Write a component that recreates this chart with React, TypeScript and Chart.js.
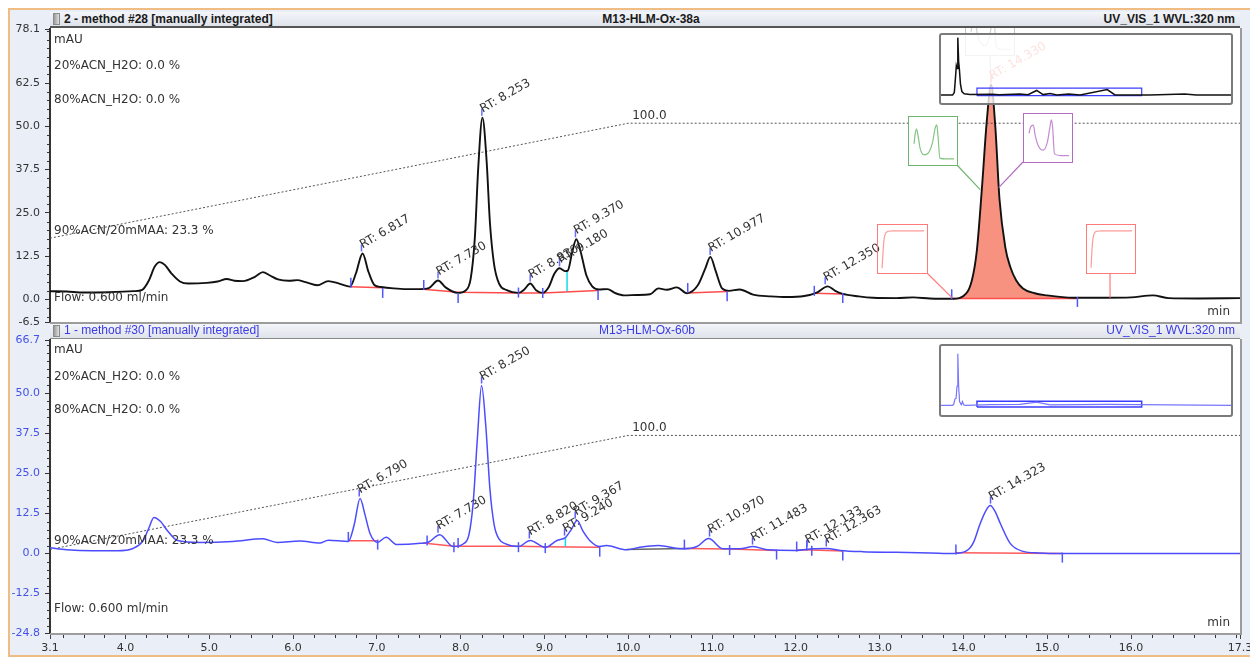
import React, { useEffect, useRef } from 'react';
import { Chart, registerables } from 'chart.js';

Chart.register(...registerables);

const NOTE_FONT = '"DejaVu Sans", "Liberation Sans", sans-serif';
const HEAD_FONT = '"Liberation Sans", Arial, sans-serif';
Chart.defaults.font.family = NOTE_FONT;

// ---------------- axes ----------------
const timeMin = 3.1;
const timeMax = 17.3;
const timeTicks = [3.1, 4.0, 5.0, 6.0, 7.0, 8.0, 9.0, 10.0, 11.0, 12.0, 13.0, 14.0, 15.0, 16.0, 17.3];
const timeMinorStep = 0.25;
const yMinorStep = 2.5;
const topYMin = -6.5;
const topYMax = 78.1;
const topYTicks = [-6.5, 0.0, 12.5, 25.0, 37.5, 50.0, 62.5, 78.1];
const botYMin = -24.8;
const botYMax = 66.7;
const botYTicks = [-24.8, -12.5, 0.0, 12.5, 25.0, 37.5, 50.0, 66.7];

// ---------------- top chromatogram (M13-HLM-Ox-38a) ----------------
const topTimes = [
  3.10, 3.30, 3.50, 3.80, 4.10, 4.20, 4.28, 4.35, 4.41, 4.47, 4.55, 4.65, 4.75, 4.97, 5.10, 5.21, 5.30, 5.40, 5.55, 5.64,
  5.72, 5.82, 5.95, 6.05, 6.15, 6.29, 6.42, 6.55, 6.68, 6.75, 6.83, 6.90, 6.97, 7.05, 7.20, 7.35, 7.50, 7.62, 7.73, 7.82,
  7.96, 8.06, 8.12, 8.17, 8.21, 8.26, 8.31, 8.35, 8.40, 8.46, 8.55, 8.69, 8.76, 8.83, 8.90, 8.98, 9.05, 9.12, 9.18, 9.25,
  9.28, 9.33, 9.38, 9.43, 9.50, 9.57, 9.65, 9.75, 9.85, 9.95, 10.10, 10.26, 10.36, 10.46, 10.58, 10.70, 10.83, 10.92, 10.98, 11.04,
  11.12, 11.20, 11.33, 11.49, 11.70, 11.89, 12.10, 12.25, 12.38, 12.47, 12.55, 12.75, 12.92, 13.20, 13.40, 13.60, 13.88, 14.00, 14.10, 14.16,
  14.22, 14.28, 14.33, 14.38, 14.43, 14.50, 14.56, 14.63, 14.71, 14.85, 14.99, 15.31, 15.71, 16.00, 16.26, 16.45, 16.80, 17.30,
];
const topValues = [
  2.4, 2.3, 2.0, 2.1, 2.4, 2.8, 5.5, 9.5, 10.8, 10.0, 7.5, 5.2, 4.6, 4.8, 5.2, 5.9, 5.4, 5.3, 6.6, 7.9,
  7.0, 5.8, 5.4, 5.6, 5.0, 4.1, 5.3, 4.6, 3.7, 7.5, 13.3, 8.0, 4.2, 3.6, 3.2, 3.0, 3.0, 3.3, 5.5, 3.5,
  1.9, 2.6, 6.0, 18.0, 38.0, 52.5, 40.0, 22.0, 10.0, 4.5, 2.7, 1.9, 2.9, 4.6, 2.7, 1.9, 3.5, 7.5, 9.0, 8.2,
  8.4, 13.5, 17.4, 14.0, 7.0, 3.8, 2.9, 3.0, 1.8, 1.2, 1.3, 1.5, 3.2, 2.8, 3.5, 1.8, 4.1, 9.0, 12.3, 8.5,
  3.2, 2.5, 2.9, 1.4, 0.9, 0.7, 1.0, 2.0, 3.8, 2.5, 1.7, 0.9, 0.5, 0.4, 0.6, 0.3, 0.2, 1.0, 5.5, 14.2,
  32.0, 52.0, 62.0, 50.0, 29.0, 15.0, 9.3, 5.5, 3.2, 1.8, 1.2, 0.5, 0.5, 0.6, 1.2, 0.4, 0.3, 0.4,
];
const topAreaRange = [13.86, 15.36];
const topAreaBase = 0.3;
const topPeakTimes = [6.817, 7.730, 8.253, 8.830, 9.180, 9.370, 10.977, 12.350, 14.330];
const topPeakHeights = [13.3, 5.5, 52.5, 4.6, 9.0, 17.4, 12.3, 3.8, 62.0];
const topPeakLabels = ['RT: 6.817', 'RT: 7.730', 'RT: 8.253', 'RT: 8.830', 'RT: 9.180', 'RT: 9.370', 'RT: 10.977', 'RT: 12.350', 'RT: 14.330'];
const topLabelColors = ['#333', '#333', '#333', '#333', '#333', '#333', '#333', '#333', '#f26a55'];
const topDelimTimes = [6.69, 7.07, 7.56, 7.97, 8.69, 8.98, 9.64, 10.71, 11.18, 12.22, 12.56, 13.86, 15.36];
const topDelimValues = [4.8, 1.9, 4.2, 0.4, 2.0, 1.9, 1.3, 3.3, 0.9, 2.5, 0.4, 1.5, -0.7];
const topBaseSegments = [
  [[6.68, 3.7], [7.07, 3.4]],
  [[7.52, 3.0], [7.97, 2.1], [8.69, 1.9], [8.98, 1.9], [9.64, 2.6]],
  [[10.70, 1.9], [11.18, 2.3]],
  [[12.22, 1.8], [12.56, 1.6]],
  [[13.86, 0.3], [15.36, 0.3]],
];
const topDropTimes = [9.27, 9.27];
const topDropValues = [8.2, 2.2];
const topGradTimes = [3.1, 10.0, 17.3];
const topGradValues = [17.7, 50.9, 50.9];
const topNotes = ['mAU', '20%ACN_H2O: 0.0 %', '80%ACN_H2O: 0.0 %', '90%ACN/20mMAA: 23.3 %', 'Flow: 0.600 ml/min'];
const topNoteY = [40, 66, 100, 231, 298];

// spectra links (end points on the top chromatogram)
const specLinkTimes = [13.86, 15.75, 14.20, 14.42, 14.33];
const specLinkValues = [0.6, 0.5, 31.7, 32.3, 63.7];

// ---------------- bottom chromatogram (M13-HLM-Ox-60b) ----------------
const botTimes = [
  3.10, 3.30, 3.60, 3.90, 4.09, 4.21, 4.28, 4.34, 4.42, 4.50, 4.62, 4.89, 5.28, 5.64, 5.81, 6.08, 6.32, 6.42, 6.66, 6.73,
  6.80, 6.86, 6.92, 7.01, 7.11, 7.24, 7.52, 7.62, 7.75, 7.91, 8.03, 8.10, 8.15, 8.20, 8.25, 8.30, 8.35, 8.40, 8.46, 8.53,
  8.69, 8.83, 9.01, 9.15, 9.25, 9.32, 9.39, 9.46, 9.54, 9.66, 9.74, 9.98, 10.14, 10.36, 10.65, 10.82, 10.96, 11.13, 11.33, 11.49,
  11.66, 12.01, 12.20, 12.37, 12.53, 12.80, 13.20, 13.60, 13.88, 14.04, 14.12, 14.20, 14.27, 14.32, 14.38, 14.44, 14.56, 14.71, 14.90, 15.12,
  16.00, 17.30,
];
const botValues = [
  1.8, 1.2, 0.9, 0.9, 1.6, 4.0, 8.0, 11.3, 10.0, 7.2, 4.1, 3.5, 3.8, 4.6, 3.5, 3.9, 3.3, 4.2, 3.8, 9.0,
  17.2, 12.0, 6.2, 3.5, 5.1, 2.8, 3.2, 3.6, 5.9, 2.2, 3.0, 6.0, 16.0, 36.0, 52.5, 40.0, 20.0, 9.0, 4.5, 3.1,
  2.2, 4.1, 1.9, 4.1, 5.0, 7.5, 10.3, 7.0, 4.1, 2.2, 2.5, 1.2, 2.0, 2.5, 1.5, 2.2, 4.7, 1.5, 1.5, 2.2,
  1.2, 1.0, 1.5, 1.6, 1.0, 0.6, 0.4, 0.2, 0.0, 0.9, 3.5, 9.4, 13.5, 15.0, 13.0, 9.4, 3.1, 0.7, 0.2, 0.0,
  0.0, 0.0,
];
const botPeakTimes = [6.790, 7.730, 8.250, 8.820, 9.240, 9.367, 10.970, 11.483, 12.133, 12.363, 14.323];
const botPeakHeights = [17.2, 5.9, 52.5, 4.1, 5.0, 10.3, 4.7, 2.2, 1.5, 1.6, 15.0];
const botPeakLabels = ['RT: 6.790', 'RT: 7.730', 'RT: 8.250', 'RT: 8.820', 'RT: 9.240', 'RT: 9.367', 'RT: 10.970', 'RT: 11.483', 'RT: 12.133', 'RT: 12.363', 'RT: 14.323'];
const botLabelColors = ['#333', '#333', '#333', '#333', '#333', '#333', '#333', '#333', '#333', '#333', '#333'];
const botDelimTimes = [6.66, 7.01, 7.60, 7.92, 7.97, 8.69, 9.01, 9.66, 10.67, 11.21, 11.77, 12.01, 12.13, 12.19, 12.56, 13.91, 15.18];
const botDelimValues = [5.2, 2.8, 4.1, 2.0, 3.3, 2.0, 1.7, 0.6, 2.8, 1.1, -0.3, 2.2, 2.5, 0.9, -0.6, 1.25, -1.25];
const botBaseSegments = [
  [[6.66, 4.0], [7.01, 4.0]],
  [[7.55, 3.3], [7.92, 2.3], [8.69, 2.3], [9.01, 2.1], [9.66, 2.0]],
  [[10.67, 1.6], [11.21, 1.4], [11.77, 1.0]],
  [[12.01, 1.1], [12.19, 1.1], [12.56, 0.8]],
  [[13.91, 0.3], [15.18, 0.0]],
];
const botGraySegments = [[[9.98, 1.3], [10.67, 1.6]]];
const botDropTimes = [9.25, 9.25];
const botDropValues = [5.0, 2.2];
const botGradTimes = [3.1, 10.0, 17.3];
const botGradValues = [1.3, 36.9, 36.9];
const botNotes = ['mAU', '20%ACN_H2O: 0.0 %', '80%ACN_H2O: 0.0 %', '90%ACN/20mMAA: 23.3 %', 'Flow: 0.600 ml/min'];
const botNoteY = [20, 47, 80, 211, 279];

// ---------------- overview insets ----------------
const insetTimeMax = 25;
const insetTopTimes = [0, 1.0, 1.15, 1.25, 1.32, 1.38, 1.45, 1.52, 1.58, 1.68, 1.8, 2.0, 2.5, 4.4, 5.0, 6.8, 7.5, 8.25, 8.8, 9.4, 10.0, 11.0, 12.0, 14.33, 15.0, 16.3, 18.0, 21.0, 22.0, 25.0];
const insetTopValues = [0, 0, 30, 200, 330, 300, 650, 380, 300, 120, 40, 15, 5, 10, 4, 13, 3, 52, 5, 17, 2, 12, 1, 62, 1, 2, 0, 12, 0, 0];
const insetTopRange = [-90, 680];
const insetBotTimes = [0, 1.0, 1.1, 1.2, 1.3, 1.38, 1.45, 1.52, 1.6, 1.75, 1.85, 1.95, 2.1, 4.3, 6.8, 8.25, 9.4, 14.3, 25];
const insetBotValues = [0, 0, 20, 100, 110, 300, 810, 300, 60, 10, 60, 10, 0, 11, 17, 52, 10, 15, 0];
const insetBotRange = [-150, 930];

// ---------------- UV spectra thumbnails ----------------
const specRedWl = [200, 205, 210, 215, 220, 230, 250, 300, 350, 400];
const specRedLeftAbs = [0.02, 0.45, 0.74, 0.85, 0.89, 0.92, 0.93, 0.93, 0.93, 0.93];
const specRedRightAbs = [0.03, 0.5, 0.76, 0.86, 0.9, 0.92, 0.93, 0.93, 0.93, 0.93];
const specGreenWl = [205, 210, 217, 225, 235, 253, 275, 295, 308, 316, 322, 331, 360, 400];
const specGreenAbs = [0.42, 0.65, 0.78, 0.6, 0.3, 0.15, 0.2, 0.45, 0.8, 0.88, 0.6, 0.07, 0.05, 0.05];
const specPurpleWl = [205, 212, 226, 235, 250, 274, 295, 305, 314, 320, 329, 360, 400];
const specPurpleAbs = [0.6, 0.75, 0.8, 0.55, 0.3, 0.19, 0.4, 0.7, 0.93, 0.75, 0.1, 0.06, 0.06];
const specApexAbs = [0.55, 0.75, 0.85, 0.5, 0.25, 0.15, 0.4, 0.75, 0.95, 0.7, 0.1, 0.05, 0.05];
const specWlRange = [190, 400];

// ---------------- helpers ----------------
const pts = (xs: number[], ys: (number | null)[]) => xs.map((x, i) => ({ x, y: ys[i] }));
const segData = (segs: number[][][]) => {
  const out: any[] = [];
  segs.forEach((s, i) => {
    if (i > 0) out.push({ x: s[0][0], y: null });
    s.forEach((p) => out.push({ x: p[0], y: p[1] }));
  });
  return out;
};
const rectData = (x0: number, x1: number, y0: number, y1: number) => [
  { x: x0, y: y0 }, { x: x1, y: y0 }, { x: x1, y: y1 }, { x: x0, y: y1 }, { x: x0, y: y0 },
];

// layout of the spectrum boxes (pixels)
const specBoxes = [
  { left: 877, top: 224, w: 51, h: 50, color: '#ff7b7b', line: '#ff9a9a', bg: 'transparent', wl: specRedWl, abs: specRedLeftAbs, lx: 927, ly: 273 },
  { left: 1086, top: 224, w: 50, h: 50, color: '#ff7b7b', line: '#ff9a9a', bg: 'transparent', wl: specRedWl, abs: specRedRightAbs, lx: 1110, ly: 273 },
  { left: 908, top: 116, w: 50, h: 50, color: '#6cb56c', line: '#84c484', bg: '#ffffff', wl: specGreenWl, abs: specGreenAbs, lx: 957, ly: 165 },
  { left: 1023, top: 113, w: 50, h: 50, color: '#b36cc4', line: '#c58bd2', bg: '#ffffff', wl: specPurpleWl, abs: specPurpleAbs, lx: 1023, ly: 162 },
  { left: 965, top: 12, w: 50, h: 44, color: '#c4c4c4', line: '#cfcfcf', bg: '#ffffff', wl: specPurpleWl, abs: specApexAbs, lx: 990, ly: 56 },
];

type PanelCfg = any;

function decoPlugin(cfg: PanelCfg) {
  return {
    id: 'deco',
    beforeDraw(chart: any) {
      const { ctx, chartArea: a } = chart;
      ctx.save();
      ctx.fillStyle = '#ffffff';
      ctx.fillRect(a.left, a.top - cfg.whiteAbove, a.right - a.left, a.bottom - a.top + cfg.whiteAbove);
      ctx.restore();
    },
    afterDatasetsDraw(chart: any) {
      const { ctx, chartArea: a } = chart;
      const xs = chart.scales.x;
      const ys = chart.scales.y;
      ctx.save();
      // spectrum connectors
      (cfg.links || []).forEach((l: any) => {
        ctx.strokeStyle = l.color;
        ctx.lineWidth = 1.2;
        ctx.beginPath();
        ctx.moveTo(l.sx, l.sy - cfg.offsetY);
        ctx.lineTo(xs.getPixelForValue(l.t), ys.getPixelForValue(l.v));
        ctx.stroke();
      });
      // notes
      ctx.fillStyle = '#333';
      ctx.font = `12px ${NOTE_FONT}`;
      ctx.textAlign = 'left';
      ctx.textBaseline = 'middle';
      cfg.notes.forEach((n: string, i: number) => ctx.fillText(n, a.left + 4, cfg.noteY[i]));
      ctx.textAlign = 'right';
      ctx.fillText('min', a.right - 10, a.bottom - 10);
      // gradient end label
      ctx.textAlign = 'left';
      ctx.textBaseline = 'alphabetic';
      ctx.fillText('100.0', xs.getPixelForValue(cfg.gradTimes[1]) + 4, ys.getPixelForValue(cfg.gradValues[1]) - 4);
      // peak apex marks and labels
      cfg.peakTimes.forEach((t: number, i: number) => {
        const px = xs.getPixelForValue(t);
        const py = ys.getPixelForValue(cfg.peakHeights[i]);
        ctx.strokeStyle = cfg.labelColors[i] === '#333' ? cfg.apexColor : cfg.labelColors[i];
        ctx.lineWidth = 1.5;
        ctx.beginPath();
        ctx.moveTo(px, py - 2);
        ctx.lineTo(px, py - 9);
        ctx.stroke();
        ctx.save();
        ctx.translate(px + 1, py - 5);
        ctx.rotate(-Math.PI / 6);
        ctx.fillStyle = cfg.labelColors[i];
        ctx.fillText(cfg.peakLabels[i], 0, 0);
        ctx.restore();
      });
      ctx.restore();
    },
    afterDraw(chart: any) {
      const { ctx, chartArea: a } = chart;
      const ys = chart.scales.y;
      ctx.save();
      ctx.strokeStyle = '#333';
      ctx.lineWidth = 1;
      ctx.beginPath();
      for (let k = Math.ceil(cfg.yMin / yMinorStep); k * yMinorStep <= cfg.yMax; k++) {
        const v = k * yMinorStep;
        if (cfg.yTicks.some((m: number) => Math.abs(m - v) < 0.3)) continue;
        const py = Math.round(ys.getPixelForValue(v)) + 0.5;
        ctx.moveTo(a.left - 3, py);
        ctx.lineTo(a.left, py);
      }
      if (cfg.showX) {
        const xs = chart.scales.x;
        for (let k = Math.ceil(timeMin / timeMinorStep); k * timeMinorStep <= timeMax; k++) {
          const t = k * timeMinorStep;
          if (timeTicks.some((m) => Math.abs(m - t) < 0.05)) continue;
          const px = Math.round(xs.getPixelForValue(t)) + 0.5;
          ctx.moveTo(px, a.bottom + 2);
          ctx.lineTo(px, a.bottom + 5);
        }
      }
      ctx.stroke();
      // frame
      ctx.strokeStyle = '#9c9c9c';
      ctx.lineWidth = 2;
      ctx.beginPath();
      ctx.moveTo(a.right + 1, a.top - cfg.whiteAbove);
      ctx.lineTo(a.right + 1, a.bottom + 1);
      ctx.lineTo(a.left, a.bottom + 1);
      ctx.stroke();
      ctx.restore();
    },
  };
}

function buildConfig(cfg: PanelCfg): any {
  return {
    type: 'line',
    data: { datasets: cfg.datasets },
    options: {
      animation: false,
      responsive: false,
      events: [],
      layout: { padding: cfg.padding },
      plugins: { legend: { display: false }, tooltip: { enabled: false }, title: { display: false } },
      scales: {
        x: {
          type: 'linear',
          min: timeMin,
          max: timeMax,
          display: cfg.showX,
          afterBuildTicks: (s: any) => { s.ticks = timeTicks.map((v) => ({ value: v })); },
          afterFit: (s: any) => {
            s.height = cfg.showX ? 22 : 0;
            s.paddingLeft = 0;
            s.paddingRight = 0;
          },
          grid: { drawOnChartArea: false, tickLength: 6, color: '#444', lineWidth: 1 },
          border: { display: false },
          ticks: {
            autoSkip: false, maxRotation: 0, minRotation: 0, padding: 3, color: '#333',
            font: { family: NOTE_FONT, size: 11 },
            callback: (v: any) => Number(v).toFixed(1),
          },
        },
        y: {
          type: 'linear',
          min: cfg.yMin,
          max: cfg.yMax,
          afterBuildTicks: (s: any) => { s.ticks = cfg.yTicks.map((v: number) => ({ value: v })); },
          afterFit: (s: any) => { s.width = 50; s.paddingTop = 0; s.paddingBottom = 0; },
          grid: { drawOnChartArea: false, tickLength: 5, color: '#333', lineWidth: 1 },
          border: { display: true, color: '#333', width: 2 },
          ticks: {
            autoSkip: false, padding: 5, color: cfg.yTickColor,
            font: { family: NOTE_FONT, size: 11 },
            callback: (v: any) => Number(v).toFixed(1),
          },
        },
      },
    },
    plugins: [decoPlugin(cfg)],
  };
}

function Panel({ cfg }: { cfg: PanelCfg }) {
  const ref = useRef<HTMLCanvasElement>(null);
  useEffect(() => {
    const chart = new Chart(ref.current as HTMLCanvasElement, buildConfig(cfg));
    return () => chart.destroy();
  }, []);
  return (
    <canvas
      ref={ref}
      width={1250}
      height={cfg.height}
      style={{ position: 'absolute', left: 0, top: cfg.offsetY, width: 1250, height: cfg.height }}
    />
  );
}

function MiniChart({ box, datasets, xRange, yRange, pad }: any) {
  const ref = useRef<HTMLCanvasElement>(null);
  const bw = box.border;
  const cw = Math.round(box.w - 2 * bw);
  const ch = Math.round(box.h - 2 * bw);
  useEffect(() => {
    const chart = new Chart(ref.current as HTMLCanvasElement, {
      type: 'line',
      data: { datasets },
      options: {
        animation: false,
        responsive: false,
        events: [],
        layout: { padding: pad },
        plugins: { legend: { display: false }, tooltip: { enabled: false } },
        scales: {
          x: { type: 'linear', display: false, min: xRange[0], max: xRange[1] },
          y: { type: 'linear', display: false, min: yRange[0], max: yRange[1] },
        },
      },
    } as any);
    return () => chart.destroy();
  }, []);
  return (
    <div
      style={{
        position: 'absolute', left: box.left, top: box.top, width: box.w, height: box.h,
        boxSizing: 'border-box', border: `${bw}px solid ${box.color}`, borderRadius: box.radius || 0,
        background: box.bg, overflow: 'hidden',
      }}
    >
      <canvas ref={ref} width={cw} height={ch} style={{ display: 'block', width: cw, height: ch }} />
    </div>
  );
}

const topArea = topTimes
  .map((t, i) => ({ x: t, y: topValues[i] }))
  .filter((p) => p.x >= topAreaRange[0] && p.x <= topAreaRange[1]);

const topCfg = {
  offsetY: 0,
  height: 330,
  padding: { left: 0, right: 10, top: 29, bottom: 8 },
  whiteAbove: 1,
  showX: false,
  yMin: topYMin,
  yMax: topYMax,
  yTicks: topYTicks,
  yTickColor: '#333',
  apexColor: '#6a6cff',
  notes: topNotes,
  noteY: topNoteY,
  gradTimes: topGradTimes,
  gradValues: topGradValues,
  peakTimes: topPeakTimes,
  peakHeights: topPeakHeights,
  peakLabels: topPeakLabels,
  labelColors: topLabelColors,
  links: specBoxes.map((b, i) => ({ sx: b.lx, sy: b.ly, t: specLinkTimes[i], v: specLinkValues[i], color: b.color })),
  datasets: [
    { data: pts(topTimes, topValues), borderColor: '#111', borderWidth: 1.9, pointRadius: 0, cubicInterpolationMode: 'monotone', order: 1 },
    { data: pts(topDelimTimes, topDelimValues), showLine: false, pointStyle: 'line', pointRotation: 90, pointRadius: 5, pointBorderColor: '#4f55ff', pointBorderWidth: 1.5, borderColor: '#4f55ff', order: 0 },
    { data: segData(topBaseSegments), borderColor: '#ff4d4d', borderWidth: 1.5, pointRadius: 0, spanGaps: false, order: 2 },
    { data: pts(topDropTimes, topDropValues), borderColor: '#10dce8', borderWidth: 1.5, pointRadius: 0, order: 2 },
    { data: pts(topGradTimes, topGradValues), borderColor: '#555', borderWidth: 1, borderDash: [2, 2], pointRadius: 0, order: 3 },
    { data: topArea, backgroundColor: 'rgba(245,140,120,0.95)', borderWidth: 0, pointRadius: 0, cubicInterpolationMode: 'monotone', fill: { value: topAreaBase }, order: 4 },
  ],
};

const botCfg = {
  offsetY: 330,
  height: 328,
  padding: { left: 0, right: 10, top: 10, bottom: 3 },
  whiteAbove: 1,
  showX: true,
  yMin: botYMin,
  yMax: botYMax,
  yTicks: botYTicks,
  yTickColor: '#4452e6',
  apexColor: '#5c5cff',
  notes: botNotes,
  noteY: botNoteY,
  gradTimes: botGradTimes,
  gradValues: botGradValues,
  peakTimes: botPeakTimes,
  peakHeights: botPeakHeights,
  peakLabels: botPeakLabels,
  labelColors: botLabelColors,
  links: [],
  datasets: [
    { data: pts(botTimes, botValues), borderColor: '#4c4cff', borderWidth: 1.5, pointRadius: 0, cubicInterpolationMode: 'monotone', order: 1 },
    { data: pts(botDelimTimes, botDelimValues), showLine: false, pointStyle: 'line', pointRotation: 90, pointRadius: 5, pointBorderColor: '#4f55ff', pointBorderWidth: 1.5, borderColor: '#4f55ff', order: 0 },
    { data: segData(botBaseSegments), borderColor: '#ff5a5a', borderWidth: 1.5, pointRadius: 0, spanGaps: false, order: 2 },
    { data: segData(botGraySegments), borderColor: '#666', borderWidth: 1.5, pointRadius: 0, order: 2 },
    { data: pts(botDropTimes, botDropValues), borderColor: '#10dce8', borderWidth: 1.5, pointRadius: 0, order: 2 },
    { data: pts(botGradTimes, botGradValues), borderColor: '#555', borderWidth: 1, borderDash: [2, 2], pointRadius: 0, order: 3 },
  ],
};

function Header({ top, height, bold, color, left, center, right, borderBottom, centerX }: any) {
  const txt: any = { position: 'absolute', top: 0, lineHeight: `${height - 2}px`, whiteSpace: 'nowrap' };
  return (
    <div
      style={{
        position: 'absolute', left: 50, top, width: 1190, height, boxSizing: 'border-box',
        background: 'linear-gradient(#f3f5f9, #dfe3ea)', borderBottom,
        font: `${bold ? 'bold ' : ''}12px ${HEAD_FONT}`, color,
      }}
    >
      <div style={{ position: 'absolute', left: 3, top: 1, width: 5, height: 10, border: '1px solid #8a8a8a', background: 'linear-gradient(90deg,#9a9a9a,#e0e0e0)' }} />
      <span style={{ ...txt, left: 14 }}>{left}</span>
      <span style={{ ...txt, left: centerX - 150, width: 300, textAlign: 'center' }}>{center}</span>
      <span style={{ ...txt, right: 5 }}>{right}</span>
    </div>
  );
}

export default function App() {
  return (
    <div style={{ position: 'fixed', left: 0, top: 0, width: 1250, height: 658, background: '#ffffff', overflow: 'hidden' }}>
      <div
        style={{
          position: 'absolute', left: 8, top: 8, width: 1250, height: 649, boxSizing: 'border-box',
          background: '#e9eef7', borderTop: '2px solid #efbd84', borderLeft: '2px solid #efbd84', borderBottom: '2px solid #efbd84',
        }}
      />
      <Panel cfg={topCfg} />
      <Panel cfg={botCfg} />
      {specBoxes.map((b, i) => (
        <MiniChart
          key={i}
          box={{ left: b.left, top: b.top, w: b.w, h: b.h, border: 1.5, color: b.color, bg: b.bg }}
          datasets={[{ data: pts(b.wl, b.abs), borderColor: b.line, borderWidth: 1.2, pointRadius: 0, cubicInterpolationMode: 'monotone' }]}
          xRange={specWlRange}
          yRange={[0, 1]}
          pad={{ left: 2, right: 2, top: 3, bottom: 3 }}
        />
      ))}
      <MiniChart
        box={{ left: 939, top: 33, w: 294, h: 72, border: 2, color: '#7a7a7a', bg: 'rgba(255,255,255,0.8)', radius: 3 }}
        datasets={[
          { data: pts(insetTopTimes, insetTopValues), borderColor: '#111', borderWidth: 1.5, pointRadius: 0 },
          { data: rectData(timeMin, timeMax, topYMin, topYMax), borderColor: '#3c3cff', borderWidth: 1.2, pointRadius: 0 },
        ]}
        xRange={[0, insetTimeMax]}
        yRange={insetTopRange}
        pad={0}
      />
      <MiniChart
        box={{ left: 939, top: 344, w: 294, h: 73, border: 2, color: '#7a7a7a', bg: 'rgba(255,255,255,0.8)', radius: 3 }}
        datasets={[
          { data: pts(insetBotTimes, insetBotValues), borderColor: '#7676ff', borderWidth: 1.2, pointRadius: 0 },
          { data: rectData(timeMin, timeMax, botYMin, botYMax), borderColor: '#3c3cff', borderWidth: 1.5, pointRadius: 0 },
        ]}
        xRange={[0, insetTimeMax]}
        yRange={insetBotRange}
        pad={0}
      />
      <Header
        top={12} height={16} bold color="#1a1a1a" borderBottom="2px solid #555"
        left="2 - method #28 [manually integrated]" center="M13-HLM-Ox-38a" right="UV_VIS_1 WVL:320 nm" centerX={601}
      />
      <Header
        top={324} height={15} bold={false} color="#3a3ae6" borderBottom="1px solid #8a8a8a"
        left="1 - method #30 [manually integrated]" center="M13-HLM-Ox-60b" right="UV_VIS_1 WVL:320 nm" centerX={597}
      />
    </div>
  );
}
